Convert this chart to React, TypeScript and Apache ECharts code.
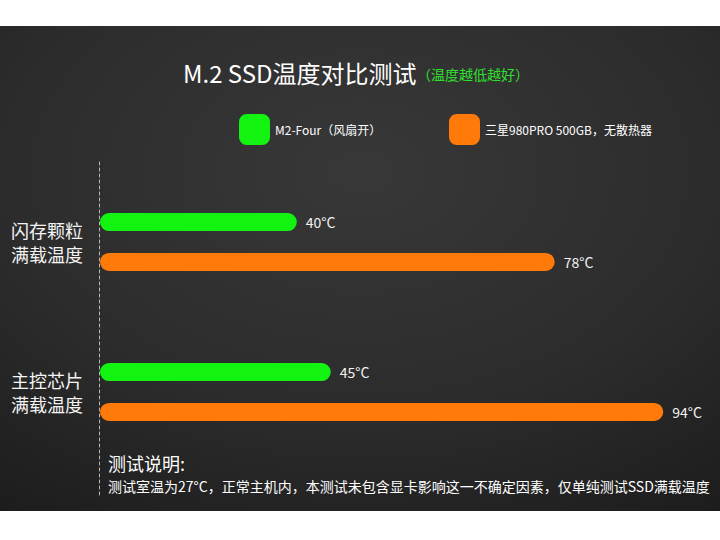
import React, { useEffect, useRef } from "react";
import * as echarts from "echarts";

const FONT = '"Noto Sans CJK SC", "Noto Sans", sans-serif';

const categories = ["闪存颗粒\n满载温度", "主控芯片\n满载温度"];
const seriesNames = ["M2-Four（风扇开）", "三星980PRO 500GB，无散热器"];
const m2FourTemps = [40, 45];
const samsungTemps = [78, 94];
const seriesColors = ["#12f312", "#ff7a08"];

const titleText = "M.2 SSD温度对比测试";
const subtitleText = "（温度越低越好）";
const noteTitle = "测试说明:";
const noteText =
  "测试室温为27°C，正常主机内，本测试未包含显卡影响这一不确定因素，仅单纯测试SSD满载温度";

export default function App() {
  const ref = useRef<HTMLDivElement>(null);

  useEffect(() => {
    if (!ref.current) return;
    const chart = echarts.init(ref.current, undefined, { renderer: "svg" });

    const barLabel = {
      show: true,
      position: "right",
      distance: 9,
      color: "#f2f2f2",
      fontSize: 14,
      fontFamily: FONT,
      formatter: "{c}°C",
    };

    chart.setOption({
      animation: false,
      backgroundColor: "#ffffff",
      textStyle: { fontFamily: FONT },
      graphic: {
        elements: [
          {
            type: "rect",
            z: -10,
            silent: true,
            shape: { x: 0, y: 26, width: 720, height: 485 },
            style: {
              fill: {
                type: "radial",
                x: 0.5,
                y: 0.3,
                r: 0.9,
                colorStops: [
                  { offset: 0, color: "#383838" },
                  { offset: 0.55, color: "#2c2c2c" },
                  { offset: 1, color: "#1b1b1b" },
                ],
              },
            },
          },
        ],
      },
      title: [
        {
          text: titleText,
          left: 183,
          top: 57,
          textStyle: {
            color: "#ffffff",
            fontSize: 24,
            fontWeight: "normal",
            lineHeight: 30,
            fontFamily: FONT,
          },
          padding: 0,
        },
        {
          text: subtitleText,
          left: 417,
          top: 64,
          textStyle: {
            color: "#2ee02e",
            fontSize: 14,
            fontWeight: "normal",
            lineHeight: 20,
            fontFamily: FONT,
          },
          padding: 0,
        },
        {
          text: noteTitle,
          left: 108,
          top: 451,
          textStyle: {
            color: "#ffffff",
            fontSize: 18,
            fontWeight: "normal",
            lineHeight: 24,
            fontFamily: FONT,
          },
          padding: 0,
        },
        {
          text: noteText,
          left: 108,
          top: 476,
          textStyle: {
            color: "#ffffff",
            fontSize: 14,
            fontWeight: "normal",
            lineHeight: 20,
            fontFamily: FONT,
          },
          padding: 0,
        },
      ],
      legend: [
        {
          data: [seriesNames[0]],
          left: 239,
          top: 114,
          padding: 0,
          itemWidth: 31,
          itemHeight: 31,
          icon: "roundRect",
          itemGap: 5,
          textStyle: { color: "#ffffff", fontSize: 12, fontFamily: FONT },
        },
        {
          data: [seriesNames[1]],
          left: 449,
          top: 114,
          padding: 0,
          itemWidth: 31,
          itemHeight: 31,
          icon: "roundRect",
          textStyle: { color: "#ffffff", fontSize: 12, fontFamily: FONT },
        },
      ],
      grid: [
        { left: 100, right: 16, top: 167, height: 300, containLabel: false },
        { left: 99, width: 1, top: 162, height: 333, containLabel: false },
      ],
      xAxis: [
        { type: "value", gridIndex: 0, min: 11, max: 100, show: false },
        { type: "value", gridIndex: 1, min: 0, max: 1, show: false },
      ],
      yAxis: [
        {
          type: "category",
          gridIndex: 0,
          data: categories,
          inverse: true,
          axisLine: { show: false },
          axisTick: { show: false },
          splitLine: { show: false },
          axisLabel: {
            color: "#f4f4f4",
            fontSize: 18,
            lineHeight: 24,
            margin: 17,
            fontFamily: FONT,
          },
        },
        {
          type: "value",
          gridIndex: 1,
          min: 0,
          max: 1,
          position: "left",
          axisLine: {
            show: true,
            onZero: false,
            lineStyle: { color: "#b8b8b8", width: 1, type: [3, 3] },
          },
          axisTick: { show: false },
          axisLabel: { show: false },
          splitLine: { show: false },
        },
      ],
      series: [
        {
          name: seriesNames[0],
          type: "bar",
          xAxisIndex: 0,
          yAxisIndex: 0,
          data: m2FourTemps,
          barWidth: 18,
          barGap: "122%",
          itemStyle: { color: seriesColors[0], borderRadius: 9 },
          label: barLabel,
        },
        {
          name: seriesNames[1],
          type: "bar",
          xAxisIndex: 0,
          yAxisIndex: 0,
          data: samsungTemps,
          barWidth: 18,
          barGap: "122%",
          itemStyle: { color: seriesColors[1], borderRadius: 9 },
          label: barLabel,
        },
      ],
    });

    return () => chart.dispose();
  }, []);

  return (
    <div
      ref={ref}
      style={{ position: "absolute", left: 0, top: 0, width: 720, height: 540 }}
    />
  );
}
